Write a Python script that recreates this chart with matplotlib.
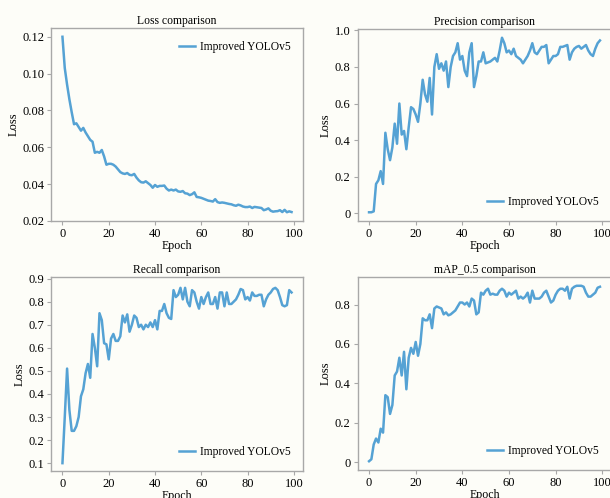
import numpy as np
import matplotlib
matplotlib.use("Agg")
import matplotlib.pyplot as plt
from matplotlib.ticker import FuncFormatter

plt.rcParams['font.family'] = ['Liberation Serif', 'DejaVu Serif']

epochs = np.arange(100)

loss = [0.12, 0.103, 0.094, 0.086, 0.079, 0.0725, 0.073, 0.071, 0.069, 0.0705,
        0.068, 0.066, 0.064, 0.063, 0.057, 0.0575, 0.057, 0.0585, 0.055, 0.0505,
        0.051, 0.051, 0.0505, 0.0495, 0.048, 0.0465, 0.0458, 0.0455, 0.046, 0.045,
        0.0448, 0.0455, 0.0435, 0.042, 0.041, 0.0408, 0.0415, 0.0405, 0.0395, 0.038,
        0.0395, 0.0385, 0.039, 0.039, 0.0392, 0.0375, 0.0365, 0.037, 0.0365, 0.037,
        0.036, 0.0358, 0.0362, 0.035, 0.0348, 0.034, 0.0345, 0.0355, 0.033, 0.0328,
        0.0325, 0.032, 0.0315, 0.031, 0.0308, 0.0305, 0.0318, 0.0302, 0.0298, 0.03,
        0.0298, 0.0295, 0.0292, 0.029, 0.0285, 0.0282, 0.0288, 0.0284, 0.0278, 0.0275,
        0.0275, 0.0278, 0.027, 0.0276, 0.0274, 0.0272, 0.027, 0.0258, 0.0262, 0.0268,
        0.0255, 0.025, 0.0252, 0.0253, 0.0258, 0.0248, 0.026, 0.0247, 0.0252, 0.0248]

precision = [0.005, 0.005, 0.01, 0.16, 0.18, 0.23, 0.16, 0.44, 0.35, 0.29,
             0.36, 0.49, 0.38, 0.6, 0.43, 0.45, 0.35, 0.47, 0.58, 0.57,
             0.54, 0.5, 0.6, 0.73, 0.65, 0.61, 0.74, 0.54, 0.8, 0.87,
             0.79, 0.82, 0.78, 0.83, 0.69, 0.8, 0.86, 0.88, 0.93, 0.84,
             0.86, 0.78, 0.75, 0.88, 0.93, 0.69, 0.75, 0.83, 0.83, 0.88,
             0.82, 0.825, 0.83, 0.84, 0.85, 0.83, 0.89, 0.96, 0.93, 0.88,
             0.89, 0.87, 0.9, 0.86, 0.85, 0.84, 0.82, 0.84, 0.86, 0.89,
             0.93, 0.88, 0.87, 0.89, 0.91, 0.91, 0.92, 0.82, 0.84, 0.86,
             0.86, 0.87, 0.91, 0.91, 0.915, 0.92, 0.84, 0.88, 0.9, 0.91,
             0.915, 0.9, 0.91, 0.92, 0.89, 0.87, 0.86, 0.9, 0.93, 0.945]

recall = [0.1, 0.3, 0.51, 0.33, 0.24, 0.24, 0.26, 0.3, 0.39, 0.42,
          0.49, 0.53, 0.47, 0.66, 0.6, 0.52, 0.75, 0.72, 0.62, 0.615,
          0.55, 0.64, 0.66, 0.63, 0.63, 0.65, 0.74, 0.71, 0.745, 0.67,
          0.7, 0.74, 0.73, 0.69, 0.7, 0.68, 0.7, 0.69, 0.71, 0.69,
          0.72, 0.68, 0.76, 0.76, 0.79, 0.75, 0.73, 0.725, 0.85, 0.82,
          0.83, 0.86, 0.81, 0.86, 0.8, 0.78, 0.85, 0.84, 0.8, 0.77,
          0.82, 0.79, 0.82, 0.84, 0.79, 0.79, 0.82, 0.77, 0.84, 0.84,
          0.78, 0.84, 0.79, 0.79, 0.8, 0.81, 0.83, 0.855, 0.85, 0.81,
          0.82, 0.805, 0.84, 0.825, 0.825, 0.83, 0.83, 0.78, 0.81, 0.83,
          0.84, 0.855, 0.86, 0.85, 0.82, 0.785, 0.78, 0.785, 0.85, 0.84]

map05 = [0.005, 0.015, 0.09, 0.12, 0.1, 0.17, 0.15, 0.34, 0.33, 0.245,
         0.29, 0.44, 0.46, 0.53, 0.44, 0.56, 0.37, 0.53, 0.58, 0.55,
         0.61, 0.54, 0.6, 0.73, 0.72, 0.72, 0.75, 0.68, 0.78, 0.79,
         0.785, 0.78, 0.75, 0.76, 0.745, 0.75, 0.76, 0.77, 0.79, 0.81,
         0.81, 0.8, 0.81, 0.79, 0.83, 0.82, 0.75, 0.76, 0.86, 0.85,
         0.87, 0.88, 0.85, 0.855, 0.85, 0.85, 0.87, 0.88, 0.87, 0.84,
         0.86, 0.85, 0.86, 0.87, 0.83, 0.84, 0.83, 0.84, 0.86, 0.81,
         0.87, 0.83, 0.83, 0.83, 0.84, 0.86, 0.87, 0.84, 0.81, 0.82,
         0.85, 0.87, 0.88, 0.88, 0.87, 0.89, 0.83, 0.88, 0.89, 0.895,
         0.895, 0.895, 0.89, 0.86, 0.84, 0.84, 0.85, 0.86, 0.885, 0.89]

titles = ['Loss comparison', 'Precision comparison', 'Recall comparison', 'mAP_0.5 comparison']
series = [loss, precision, recall, map05]
legend_loc = ['upper right', 'lower right', 'lower right', 'lower right']
label = 'Improved YOLOv5'

W, H = 610, 498
bg = '#fdfdf8'
line_color = '#55a2d4'
spine_color = '#a8a8a8'

# axes boxes in pixels: left, top, right, bottom
boxes = [(51, 28, 303, 221), (357.5, 29, 611.5, 221),
         (51, 277, 303, 471), (357.5, 277, 611.5, 470)]


def fmt_loss(v, pos):
    return '%.2f' % v


def fmt_plain(v, pos):
    if abs(v) < 1e-9:
        return '0'
    return '%.1f' % v


fig = plt.figure(figsize=(W / 100, H / 100), dpi=100, facecolor=bg)

for i, (l, t, r, b) in enumerate(boxes):
    ax = fig.add_axes([l / W, 1 - b / H, (r - l) / W, (b - t) / H])
    ax.set_facecolor(bg)
    ax.plot(epochs, series[i], color=line_color, lw=1.8, label=label)
    ax.set_title(titles[i], fontsize=8.4, pad=3)
    ax.set_xlabel('Epoch', fontsize=8.6, labelpad=0)
    ax.set_ylabel('Loss', fontsize=9, labelpad=2)
    ax.set_xticks([0, 20, 40, 60, 80, 100])
    if i == 0:
        ax.yaxis.set_major_formatter(FuncFormatter(fmt_loss))
    elif i == 2:
        ax.set_yticks(np.arange(0.1, 0.95, 0.1))
        ax.set_ylim(0.066, 0.907)
        ax.yaxis.set_major_formatter(FuncFormatter(fmt_plain))
    else:
        ax.yaxis.set_major_formatter(FuncFormatter(fmt_plain))
    for s in ax.spines.values():
        s.set_color(spine_color)
        s.set_linewidth(1.0)
    ax.tick_params(labelsize=9, color=spine_color, length=3, width=0.8, pad=2)
    ax.legend(loc=legend_loc[i], frameon=False, fontsize=8.3, handlelength=1.4,
              handletextpad=0.4, borderaxespad=0.7)

fig.savefig('out.png', dpi=100, facecolor=bg)
